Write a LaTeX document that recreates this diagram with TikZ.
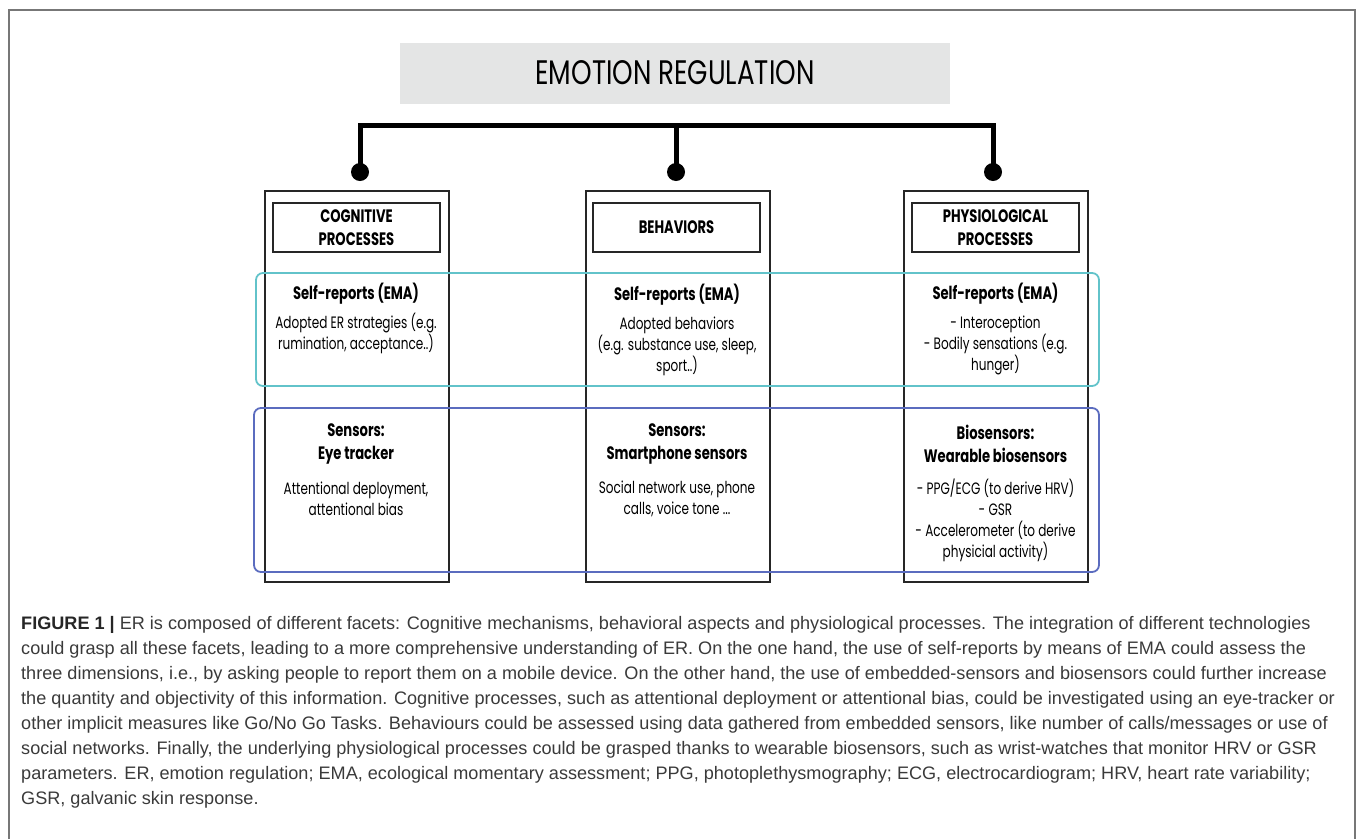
\documentclass[tikz,border=0pt]{standalone}
\usepackage{fontspec}
\setmainfont{Liberation Sans}
\newfontfamily\dgmfont[FakeStretch=0.73]{Poppins}
\newfontfamily\titlefont[FakeStretch=0.77]{Poppins}
\newfontfamily\capfont{Liberation Sans}
\definecolor{framegray}{HTML}{777777}
\definecolor{titlegray}{HTML}{E4E5E5}
\definecolor{selfcyan}{HTML}{62C3CA}
\definecolor{sensblue}{HTML}{5B6CBF}
\definecolor{captext}{HTML}{3A3A3A}
\tikzset{
  outerframe/.style={draw=framegray, line width=1.6},
  titlebox/.style={fill=titlegray, minimum width=550, minimum height=61, inner sep=0,
    font=\titlefont\fontsize{34}{38}\selectfont},
  bar/.style={line width=5, line join=miter, line cap=butt},
  dot/.style={circle, fill=black, minimum size=18, inner sep=0},
  column/.style={draw=black!85, line width=1.8, minimum width=184, minimum height=391, inner sep=0},
  headbox/.style={draw=black!85, line width=1.8, minimum width=167, minimum height=49, inner sep=0,
    align=center, font=\dgmfont\bfseries\fontsize{18}{23}\selectfont},
  grouptitle/.style={align=center, font=\dgmfont\bfseries\fontsize{18}{23}\selectfont},
  bodytext/.style={align=center, font=\dgmfont\fontsize{16.5}{21}\selectfont},
  selfgroup/.style={draw=selfcyan, line width=1.8, rounded corners=7},
  sensgroup/.style={draw=sensblue, line width=1.8, rounded corners=7},
  caption/.style={anchor=north west, align=left, inner sep=0, text=captext,
    font=\capfont\fontsize{18.1}{25}\selectfont}
}
\begin{document}
\begin{tikzpicture}[x=1pt,y=-1pt]
\useasboundingbox (0,0) rectangle (1357,839);
\draw[outerframe] (9,839) -- (9,10) -- (1355,10) -- (1355,839);

\node[titlebox] (er) at (675,73) {EMOTION REGULATION};

% columns
\node[column] (c1) at (357,386.5) {};
\node[column] (c2) at (678,386.5) {};
\node[column] (c3) at (996,386.5) {};

% connectors
\node[dot] (d1) at (360,172) {};
\node[dot] (d2) at (676,172) {};
\node[dot] (d3) at (993,172) {};
\coordinate (b1) at (360,125);
\coordinate (b2) at (676,125);
\coordinate (b3) at (993,125);
\draw[bar] (d1.center) -- (b1) -- (b3) -- (d3.center);
\draw[bar] (b2) -- (d2.center);

% headers
\node[headbox] (h1) at (356.5,227.5) {COGNITIVE\\PROCESSES};
\node[headbox] (h2) at (676.5,227.5) {BEHAVIORS};
\node[headbox] (h3) at (995.5,227.5) {PHYSIOLOGICAL\\PROCESSES};

% group frames
\draw[selfgroup] (256,273) rectangle (1099,386);
\draw[sensgroup] (254,408) rectangle (1099,572);

% cognitive
\node[grouptitle] (s1) at (356,294) {Self-reports (EMA)};
\node[bodytext] (t1) at (356,333.5) {Adopted ER strategies (e.g.\\rumination, acceptance..)};
\node[grouptitle] (n1) at (356,443.5) {Sensors:\\Eye tracker};
\node[bodytext] (u1) at (356,498.5) {Attentional deployment,\\attentional bias};

% behaviors
\node[grouptitle] (s2) at (677,295) {Self-reports (EMA)};
\node[bodytext] (t2) at (677,346) {Adopted behaviors\\(e.g. substance use, sleep,\\sport..)};
\node[grouptitle] (n2) at (677,443.5) {Sensors:\\Smartphone sensors};
\node[bodytext] (u2) at (677,498.5) {Social network use, phone\\calls, voice tone ...};

% physiological
\node[grouptitle] (s3) at (995.5,294) {Self-reports (EMA)};
\node[bodytext] (t3) at (995.5,345) {- Interoception\\- Bodily sensations (e.g.\\hunger)};
\node[grouptitle] (n3) at (995.5,443.5) {Biosensors:\\Wearable biosensors};
\node[bodytext] (u3) at (995.5,520.5) {- PPG/ECG (to derive HRV)\\- GSR\\- Accelerometer (to derive\\physicial activity)};

% caption
\node[caption] (cap) at (21,616) {%
{\bfseries\color{black!85}FIGURE 1 \textbar} ER is composed of different facets: Cognitive mechanisms, behavioral aspects and physiological processes. The integration of different technologies\\
could grasp all these facets, leading to a more comprehensive understanding of ER. On the one hand, the use of self-reports by means of EMA could assess the\\
three dimensions, i.e., by asking people to report them on a mobile device. On the other hand, the use of embedded-sensors and biosensors could further increase\\
the quantity and objectivity of this information. Cognitive processes, such as attentional deployment or attentional bias, could be investigated using an eye-tracker or\\
other implicit measures like Go/No Go Tasks. Behaviours could be assessed using data gathered from embedded sensors, like number of calls/messages or use of\\
social networks. Finally, the underlying physiological processes could be grasped thanks to wearable biosensors, such as wrist-watches that monitor HRV or GSR\\
parameters. ER, emotion regulation; EMA, ecological momentary assessment; PPG, photoplethysmography; ECG, electrocardiogram; HRV, heart rate variability;\\
GSR, galvanic skin response.};
\end{tikzpicture}
\end{document}
